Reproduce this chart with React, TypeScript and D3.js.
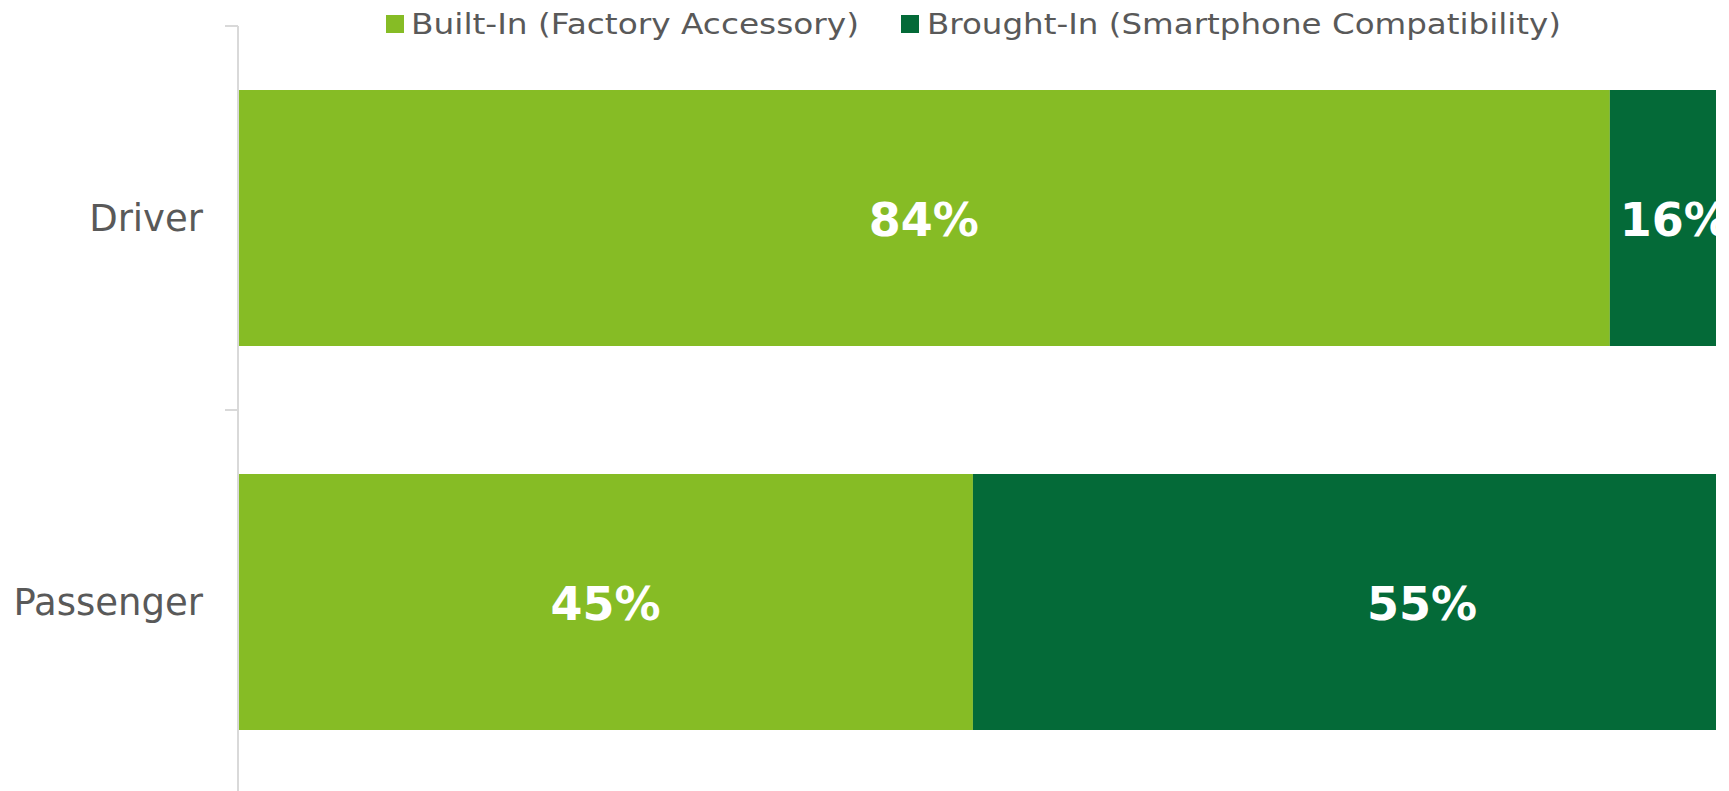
import * as d3 from 'd3';

const categories = ['Driver', 'Passenger'];
const seriesNames = ['Built-In (Factory Accessory)', 'Brought-In (Smartphone Compatibility)'];
const builtIn = [84, 45];
const broughtIn = [16, 55];
const colors = ['#86bc25', '#046a38'];

const width = 1729;
const height = 791;
const margin = { top: 26, right: 13, bottom: -3, left: 238 };
const axisMax = 90.5;

export default function App() {
  const x = d3.scaleLinear()
    .domain([0, axisMax])
    .range([margin.left, width - margin.right]);

  const y = d3.scaleBand<string>()
    .domain(categories)
    .range([margin.top, height - margin.bottom])
    .paddingInner(1 / 3)
    .paddingOuter(1 / 6);

  const rows = categories.map((c, i) => ({ cat: c, values: [builtIn[i], broughtIn[i]] }));
  const stack = d3.stack<{ cat: string; values: number[] }>()
    .keys(['0', '1'])
    .value((d, k) => d.values[+k]);
  const layers = stack(rows);

  const step = y.step();
  const tickYs = categories.map(c => (y(c) as number) - step * (1 / 6));
  tickYs.push(height - margin.bottom);

  const plotRight = width - margin.right;

  return (
    <svg width={width} height={height} style={{ position: 'absolute', left: 0, top: 0 }}
      fontFamily="'DejaVu Sans', Verdana, sans-serif">
      <defs>
        <clipPath id="plot">
          <rect x={margin.left} y={0} width={plotRight - margin.left} height={height} />
        </clipPath>
      </defs>

      {/* legend */}
      <g>
        <rect x={386} y={15} width={18} height={18} fill={colors[0]} />
        <text x={411} y={34} fontSize={29} fill="#595959"
          textLength={448} lengthAdjust="spacingAndGlyphs">{seriesNames[0]}</text>
        <rect x={901} y={15} width={18} height={18} fill={colors[1]} />
        <text x={927} y={34} fontSize={29} fill="#595959"
          textLength={634} lengthAdjust="spacingAndGlyphs">{seriesNames[1]}</text>
      </g>

      {/* bars */}
      <g clipPath="url(#plot)">
        {layers.map((layer, li) => layer.map((seg, i) => (
          <rect key={`${li}-${i}`}
            x={x(seg[0])} y={y(categories[i])}
            width={x(seg[1]) - x(seg[0])} height={y.bandwidth()}
            fill={colors[li]} />
        )))}
        {layers.map((layer, li) => layer.map((seg, i) => {
          const x0 = x(seg[0]);
          const center = (x0 + x(seg[1])) / 2;
          const overflow = center + 40 > plotRight;
          return (
            <text key={`l${li}-${i}`}
              x={overflow ? x0 + 10 : center}
              y={(y(categories[i]) as number) + y.bandwidth() / 2 + 18}
              textAnchor={overflow ? 'start' : 'middle'}
              fontSize={46} fontWeight="bold" fill="#ffffff">
              {`${seg.data.values[li]}%`}
            </text>
          );
        }))}
      </g>

      {/* y axis */}
      <line x1={margin.left} x2={margin.left} y1={margin.top} y2={height}
        stroke="#d9d9d9" strokeWidth={2} />
      {tickYs.map((t, i) => (
        <line key={i} x1={margin.left - 13} x2={margin.left} y1={t} y2={t}
          stroke="#d9d9d9" strokeWidth={2} />
      ))}
      {categories.map(c => (
        <text key={c} x={203} y={(y(c) as number) + y.bandwidth() / 2 + 13}
          textAnchor="end" fontSize={37} fill="#595959">{c}</text>
      ))}
    </svg>
  );
}
